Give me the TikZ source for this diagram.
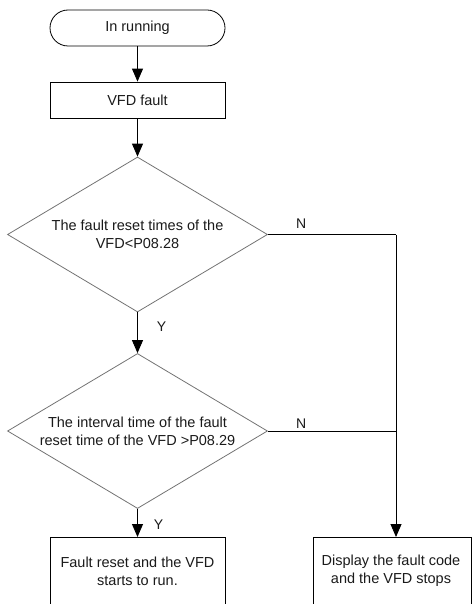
\documentclass[tikz,border=0pt]{standalone}
\usepackage{fontspec}
\setmainfont{Liberation Sans}
\usetikzlibrary{shapes.geometric,arrows.meta}
\definecolor{txt}{HTML}{1A1A1A}
\begin{document}
\begin{tikzpicture}[x=1pt,y=-1pt,
  every node/.style={font=\fontsize{14.5}{18}\selectfont, text=txt, align=center, inner sep=0pt},
  box/.style={draw=black, line width=0.8pt, minimum width=175pt},
  term/.style={box, rounded corners=18pt, minimum height=36pt},
  dec/.style={draw=black!55, line width=0.8pt, shape=diamond, aspect=1.677, minimum width=260pt, minimum height=155pt},
  conn/.style={draw=black, line width=0.9pt},
  arr/.style={conn, -{Triangle[width=11pt,length=13pt]}},
  lbl/.style={font=\fontsize{14}{15}\selectfont}
]
\useasboundingbox (0,0) rectangle (472,604);
\clip (0,0) rectangle (472,604);
\node[term] (t) at (137.5,28) {In running};
\node[box, minimum height=36pt] (f) at (137.5,100) {VFD fault};
\node[dec] (d1) at (137.5,234.5) {The fault reset times of the\\VFD<P08.28};
\node[dec] (d2) at (137.5,431) {The interval time of the fault\\reset time of the VFD >P08.29};
\node[box, minimum height=100pt, anchor=north] (r1) at (137.5,537) {};
\node[box, minimum width=158pt, minimum height=100pt, anchor=north] (r2) at (392,537) {};
\node (r1t) at (137.5,571) {Fault reset and the VFD\\starts to run.};
\node (r2t) at (391,571) {Display the fault code\\and the VFD stops};
\coordinate (c1) at (396,234.5);
\coordinate (c2) at (396,431);
\draw[arr] (t.south) -- (f.north);
\draw[arr] (f.south) -- (d1.north);
\draw[arr] (d1.south) -- node[lbl, pos=0.35, right=19pt] {Y} (d2.north);
\draw[arr] (d2.south) -- node[lbl, pos=0.55, right=16pt] {Y} (r1.north);
\draw[conn] (d1.east) -- node[lbl, pos=0.26, above=6pt] {N} (c1);
\draw[conn] (d2.east) -- node[lbl, pos=0.26, above=2pt] {N} (c2);
\draw[arr] (c1) -- (r2.north -| c1);
\end{tikzpicture}
\end{document}
